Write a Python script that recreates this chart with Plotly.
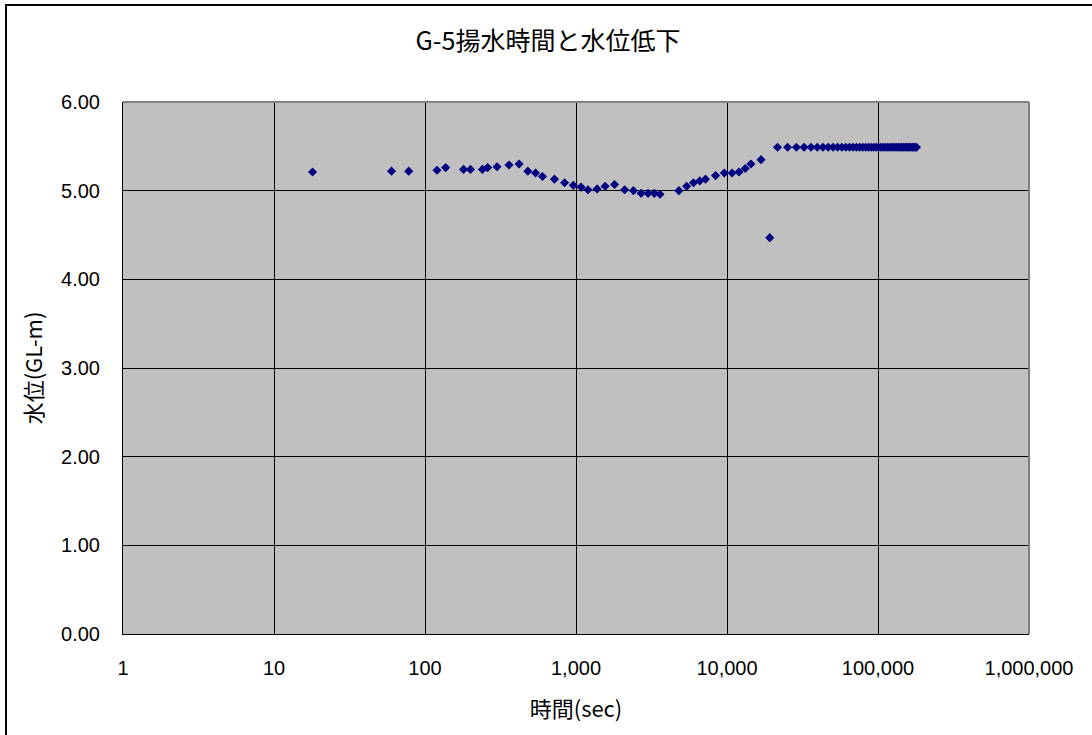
import plotly.graph_objects as go

# Elapsed pumping time (seconds) and water level (GL-m) at well G-5
time_sec = [
    18, 60, 78, 120, 137, 180, 200, 240, 260, 300,
    360, 420, 480, 540, 600, 720, 840, 960, 1080, 1200,
    1380, 1560, 1800, 2100, 2400, 2700, 3000, 3300, 3600, 4800,
    5400, 6000, 6600, 7200, 8400, 9600, 10800, 12000, 13200, 14400,
    16800, 19200,
    21600, 25200, 28800, 32400, 36000, 39600, 43200, 46800, 50400, 54000,
    57600, 61200, 64800, 68400, 72000, 75600, 79200, 82800, 86400, 90000,
    93600, 97200, 100800, 104400, 108000, 111600, 115200, 118800, 122400, 126000,
    129600, 133200, 136800, 140400, 144000, 147600, 151200, 154800, 158400, 162000,
    165600, 169200, 172800, 176400, 180000,
]
water_level = [
    5.21, 5.22, 5.22, 5.23, 5.26, 5.24, 5.24, 5.24, 5.26, 5.27,
    5.29, 5.30, 5.22, 5.20, 5.16, 5.13, 5.09, 5.06, 5.04, 5.01,
    5.02, 5.05, 5.07, 5.01, 5.00, 4.97, 4.97, 4.97, 4.96, 5.00,
    5.05, 5.09, 5.11, 5.13, 5.17, 5.20, 5.20, 5.21, 5.25, 5.30,
    5.35, 4.47,
    5.49, 5.49, 5.49, 5.49, 5.49, 5.49, 5.49, 5.49, 5.49, 5.49,
    5.49, 5.49, 5.49, 5.49, 5.49, 5.49, 5.49, 5.49, 5.49, 5.49,
    5.49, 5.49, 5.49, 5.49, 5.49, 5.49, 5.49, 5.49, 5.49, 5.49,
    5.49, 5.49, 5.49, 5.49, 5.49, 5.49, 5.49, 5.49, 5.49, 5.49,
    5.49, 5.49, 5.49, 5.49, 5.49,
]

x_tick_vals = [1, 10, 100, 1000, 10000, 100000, 1000000]
x_tick_text = ["1", "10", "100", "1,000", "10,000", "100,000", "1,000,000"]
y_tick_vals = [0, 1, 2, 3, 4, 5, 6]

W, H = 1092, 735
L, R, T, B = 123, 63, 102, 101
pw, ph = W - L - R, H - T - B

def px_to_paper(px, py):
    return (px - L) / pw, (H - B - py) / ph

fig = go.Figure()
fig.add_trace(go.Scatter(
    x=time_sec, y=water_level, mode="markers",
    marker=dict(symbol="diamond", size=7, color="#000080",
                line=dict(width=0)),
    showlegend=False, hoverinfo="x+y",
))

label_font = dict(family="Liberation Sans, Arial, sans-serif", size=20, color="#000")
cjk_font = dict(family="Noto Sans CJK JP, sans-serif", size=22, color="#000")

fig.update_xaxes(
    type="log", range=[0, 6],
    tickvals=x_tick_vals, ticktext=x_tick_text,
    showgrid=True, gridcolor="#000000", gridwidth=1,
    ticks="outside", ticklen=16, tickcolor="rgba(0,0,0,0)",
    tickfont=label_font,
    showline=True, linecolor="#000000", linewidth=1,
    title=dict(text="時間(sec)", font=cjk_font, standoff=23),
    zeroline=False,
)
fig.update_yaxes(
    range=[0, 6], tickvals=y_tick_vals, tickformat=".2f",
    showgrid=True, gridcolor="#000000", gridwidth=1,
    ticks="outside", ticklen=18, tickcolor="rgba(0,0,0,0)",
    tickfont=label_font,
    showline=True, linecolor="#000000", linewidth=1,
    title=dict(text="水位(GL-m)", font=cjk_font, standoff=12),
    zeroline=False,
)

# gray frame on the top and right of the plot area
fig.add_shape(type="line", xref="paper", yref="paper", x0=0, x1=1, y0=1, y1=1,
              line=dict(color="#808080", width=2))
fig.add_shape(type="line", xref="paper", yref="paper", x0=1, x1=1, y0=0, y1=1,
              line=dict(color="#808080", width=2))

# outer chart border
bx0, by0 = px_to_paper(6, 5)
bx1, by1 = px_to_paper(1110, 750)
fig.add_shape(type="rect", xref="paper", yref="paper",
              x0=bx0, y0=by1, x1=bx1, y1=by0,
              line=dict(color="#000000", width=2), fillcolor="rgba(0,0,0,0)",
              layer="below")

fig.update_layout(
    width=W, height=H,
    margin=dict(l=L, r=R, t=T, b=B, autoexpand=False),
    paper_bgcolor="#FFFFFF", plot_bgcolor="#C0C0C0",
    title=dict(text="G-5揚水時間と水位低下", x=548 / W, xanchor="center",
               y=1 - 41 / H, yanchor="middle",
               font=dict(family="Noto Sans CJK JP, sans-serif", size=25, color="#000")),
)

fig.write_html("out.html")
